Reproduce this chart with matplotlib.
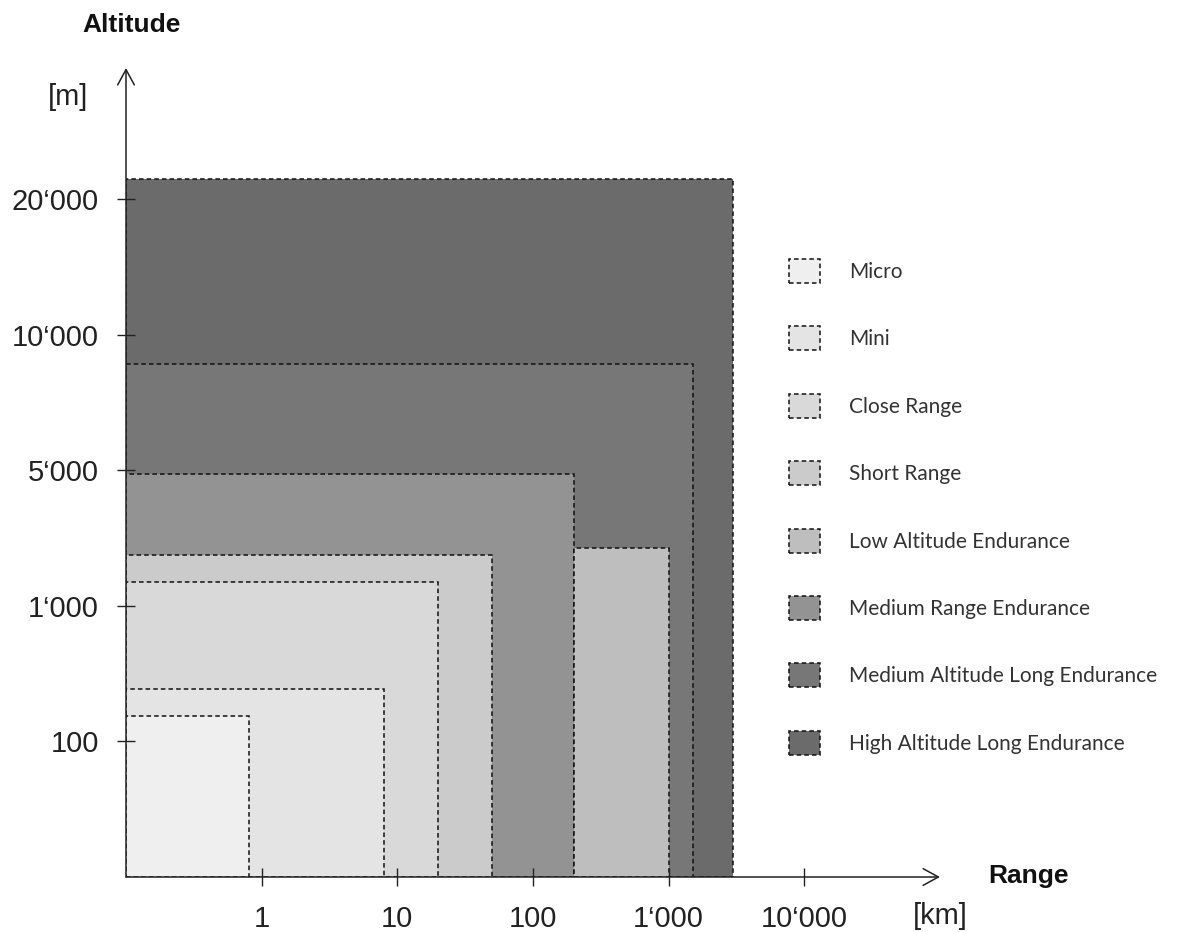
import numpy as np
import matplotlib
matplotlib.use("Agg")
import matplotlib.pyplot as plt
from matplotlib.patches import Patch

# UAV classes: range [km] and altitude [m] (schematic chart)
classes = ['Micro', 'Mini', 'Close Range', 'Short Range', 'Low Altitude Endurance',
           'Medium Range Endurance', 'Medium Altitude Long Endurance',
           'High Altitude Long Endurance']
range_min = [0.1, 0.1, 0.1, 0.1, 200, 0.1, 0.1, 0.1]
range_max = [0.8, 8, 20, 50, 1000, 200, 1500, 3000]
altitude_max = [270, 450, 1700, 2500, 2700, 4900, 8900, 23000]
colors = ['#efefef', '#e4e4e4', '#d9d9d9', '#cbcbcb', '#bebebe',
          '#939393', '#777777', '#6b6b6b']

x_ticks = [1, 10, 100, 1000, 10000]
x_ticklabels = ['1', '10', '100', '1\u2018000', '10\u2018000']
y_ticks = [100, 1000, 5000, 10000, 20000]
y_ticklabels = ['100', '1\u2018000', '5\u2018000', '10\u2018000', '20\u2018000']

# the altitude axis has equally spaced ticks, not a true log scale
alt_levels = [0, 1, 2, 3, 4, 5, 6]
alt_values = [0, 100, 1000, 5000, 10000, 20000, 40000]


def alt_forward(v):
    return np.interp(v, alt_values, alt_levels)


def alt_inverse(l):
    return np.interp(l, alt_levels, alt_values)


plt.rcParams['font.family'] = ['Liberation Sans', 'DejaVu Sans']

fig = plt.figure(figsize=(11.8, 9.32), dpi=100)
W, H = 1180, 932
ax = fig.add_axes([126 / W, 1 - 877 / H, (940 - 126) / W, (877 - 68) / H])

ax.set_xscale('log')
ax.set_yscale('function', functions=(alt_forward, alt_inverse))
ax.set_xlim(0.1, 1e5)
ax.set_ylim(0, alt_inverse(5.966))

# draw from the biggest class down so the small ones stay on top
order = [7, 6, 5, 4, 3, 2, 1, 0]
for i in order:
    ax.bar(range_min[i], altitude_max[i], width=range_max[i] - range_min[i],
           bottom=0, align='edge', color=colors[i], edgecolor='#111111',
           linewidth=1.1, linestyle=(0, (3, 2)), zorder=1)

for s in ax.spines.values():
    s.set_visible(False)

# axis arrows
arrow = dict(arrowstyle='->,head_length=0.55,head_width=0.3', lw=1.1,
             color='#222222', shrinkA=0, shrinkB=0, mutation_scale=20)
ax.annotate('', xy=(1, 0), xytext=(0, 0), xycoords='axes fraction', arrowprops=arrow, zorder=3)
ax.annotate('', xy=(0, 1), xytext=(0, 0), xycoords='axes fraction', arrowprops=arrow, zorder=3)

ax.set_xticks(x_ticks)
ax.set_xticklabels(x_ticklabels)
ax.xaxis.set_minor_locator(matplotlib.ticker.NullLocator())
ax.set_yticks(y_ticks)
ax.set_yticklabels(y_ticklabels)
ax.yaxis.set_minor_locator(matplotlib.ticker.NullLocator())
ax.tick_params(axis='both', direction='inout', length=13, width=1.0,
               labelsize=21, colors='#222222', labelcolor='#222222')
ax.tick_params(axis='x', pad=14)
ax.tick_params(axis='y', pad=13)

# axis titles
fig.text(132 / W, 1 - 25 / H, 'Altitude', ha='center', va='center',
         fontsize=19, fontweight='bold', color='#111111')
fig.text(68 / W, 1 - 97 / H, '[m]', ha='center', va='center', fontsize=21, color='#222222')
fig.text(1028 / W, 1 - 876 / H, 'Range', ha='center', va='center',
         fontsize=19, fontweight='bold', color='#111111')
fig.text(940 / W, 1 - 916 / H, '[km]', ha='center', va='center', fontsize=21, color='#222222')

handles = [Patch(facecolor=c, edgecolor='#111111', linewidth=1.1, linestyle=(0, (3, 2)))
           for c in colors]
fig.legend(handles, classes, loc='upper left', bbox_to_anchor=(789 / W, 1 - 259 / H),
           frameon=False, prop={'family': 'Lato', 'size': 15},
           handlelength=1.5, handleheight=1.4, handletextpad=1.4,
           labelspacing=2.08, borderpad=0, borderaxespad=0, labelcolor='#333333')

fig.savefig('out.png', dpi=100)
